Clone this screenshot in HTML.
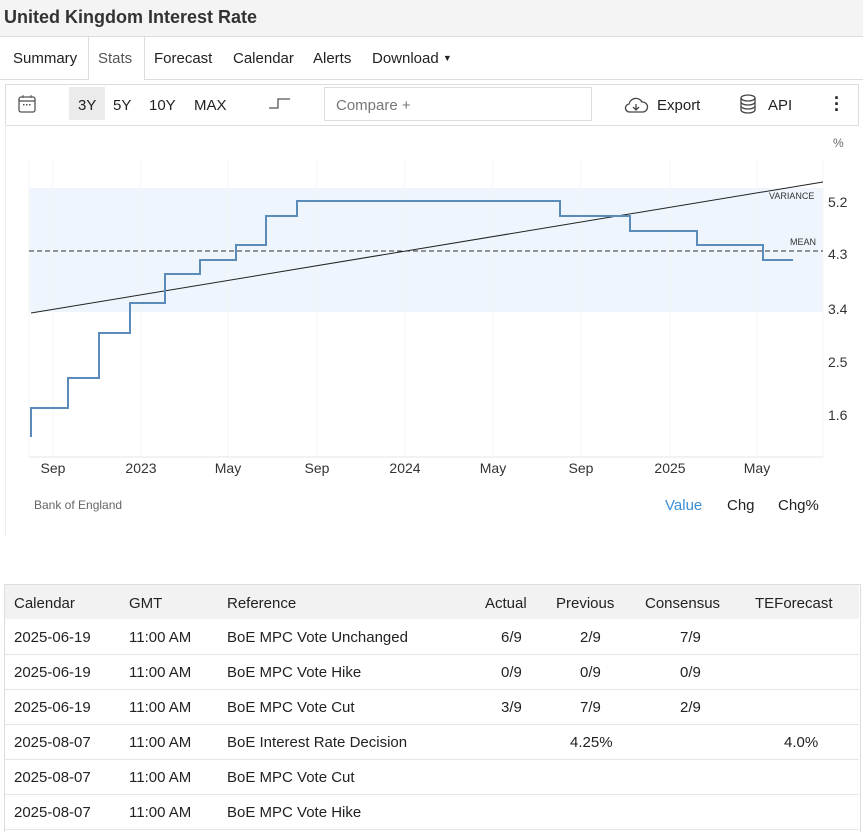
<!DOCTYPE html>
<html><head><style>
html,body{margin:0;width:863px;height:832px;overflow:hidden}
body{background:#fff;font-family:"Liberation Sans",sans-serif;color:#222;position:relative}
.a{position:absolute;white-space:nowrap}
.t{font-size:15px}
</style></head><body>
<div class="a" style="left:0;top:0;width:863px;height:36px;background:#f4f4f4;border-bottom:1px solid #ddd"></div>
<div class="a" style="left:4px;top:7px;font-size:18px;font-weight:bold;color:#333">United Kingdom Interest Rate</div>
<div class="a" style="left:0;top:79px;width:863px;border-top:1px solid #ddd"></div>
<div class="a" style="left:88px;top:37px;width:55px;height:43px;background:#fff;border-left:1px solid #ddd;border-right:1px solid #ddd"></div>
<div class="a t" style="left:13px;top:50px">Summary</div>
<div class="a t" style="left:98px;top:50px;color:#555">Stats</div>
<div class="a t" style="left:154px;top:50px">Forecast</div>
<div class="a t" style="left:233px;top:50px">Calendar</div>
<div class="a t" style="left:313px;top:50px">Alerts</div>
<div class="a t" style="left:372px;top:50px">Download <span style="font-size:9px;position:relative;top:-2px">▼</span></div>
<div class="a" style="left:5px;top:84px;width:852px;height:40px;border:1px solid #ddd"></div>
<div class="a" style="left:5px;top:124px;width:0;height:412px;border-left:1px solid #eee"></div>
<svg class="a" style="left:18px;top:95px" width="18" height="18"><rect x="1" y="2" width="16" height="15" rx="2" fill="none" stroke="#555" stroke-width="1.3"/><line x1="1" y1="6" x2="17" y2="6" stroke="#555" stroke-width="1.3"/><line x1="5" y1="0" x2="5" y2="3" stroke="#555"/><line x1="13" y1="0" x2="13" y2="3" stroke="#555"/><g fill="#555"><rect x="5" y="9" width="1.5" height="1.5"/><rect x="8" y="9" width="1.5" height="1.5"/><rect x="11" y="9" width="1.5" height="1.5"/></g></svg>
<div class="a" style="left:69px;top:87px;width:36px;height:33px;background:#ebebeb"></div>
<div class="a t" style="left:78px;top:97px">3Y</div>
<div class="a t" style="left:113px;top:97px">5Y</div>
<div class="a t" style="left:149px;top:97px">10Y</div>
<div class="a t" style="left:194px;top:97px">MAX</div>
<svg class="a" style="left:268px;top:96px" width="24" height="14"><path d="M1 12H10V3H22" fill="none" stroke="#555" stroke-width="1.3"/></svg>
<div class="a" style="left:324px;top:87px;width:268px;height:34px;border:1px solid #ddd;box-sizing:border-box"></div>
<div class="a t" style="left:336px;top:97px;color:#777">Compare +</div>
<svg class="a" style="left:623px;top:96px" width="26" height="18"><path d="M7 16H20A5 5 0 0 0 19 6A7 7 0 0 0 6 8A4 4 0 0 0 7 16Z" fill="none" stroke="#444" stroke-width="1.3"/><path d="M13 8V14M10 11L13 14L16 11" fill="none" stroke="#444" stroke-width="1.3"/></svg>
<div class="a t" style="left:657px;top:97px">Export</div>
<svg class="a" style="left:739px;top:94px" width="18" height="20"><ellipse cx="9" cy="4" rx="7" ry="3" fill="none" stroke="#444" stroke-width="1.3"/><path d="M2 4V16A7 3 0 0 0 16 16V4M2 8A7 3 0 0 0 16 8M2 12A7 3 0 0 0 16 12" fill="none" stroke="#444" stroke-width="1.3"/></svg>
<div class="a t" style="left:768px;top:97px">API</div>
<div class="a" style="left:834px;top:95px;font-size:18px;font-weight:bold;line-height:6px">·<br>·<br>·</div>
<svg class="a" style="left:0;top:124px" width="863" height="360" font-family="Liberation Sans,sans-serif">
<rect x="29" y="64" width="794" height="124" fill="#eef5fc"/>
<g stroke="#f6f6f6"><line x1="53" y1="36" x2="53" y2="333"/><line x1="141" y1="36" x2="141" y2="333"/><line x1="228" y1="36" x2="228" y2="333"/><line x1="317" y1="36" x2="317" y2="333"/><line x1="405" y1="36" x2="405" y2="333"/><line x1="493" y1="36" x2="493" y2="333"/><line x1="581" y1="36" x2="581" y2="333"/><line x1="670" y1="36" x2="670" y2="333"/><line x1="757" y1="36" x2="757" y2="333"/><line x1="823" y1="36" x2="823" y2="333"/><line x1="29" y1="36" x2="29" y2="333"/></g>
<line x1="29" y1="333" x2="823" y2="333" stroke="#e6e6e6"/>
<line x1="29" y1="127" x2="823" y2="127" stroke="#333" stroke-dasharray="5,3"/>
<line x1="31" y1="189" x2="823" y2="58" stroke="#222" stroke-width="1"/>
<path d="M31 313V284H68V254H99V209H130V179H165V150H200V136H236V121H266V92H297V77H560V92H630V107H697V121H763V136H793" fill="none" stroke="#5b8bb8" stroke-width="2"/>
<g font-size="9" fill="#333"><text x="769" y="75">VARIANCE</text><text x="790" y="121">MEAN</text></g>
<g font-size="14" fill="#333"><text x="828" y="83">5.2</text><text x="828" y="135">4.3</text><text x="828" y="190">3.4</text><text x="828" y="243">2.5</text><text x="828" y="296">1.6</text><text x="833" y="23" font-size="12" fill="#666">%</text></g>
<g font-size="14" fill="#333" text-anchor="middle"><text x="53" y="349">Sep</text><text x="141" y="349">2023</text><text x="228" y="349">May</text><text x="317" y="349">Sep</text><text x="405" y="349">2024</text><text x="493" y="349">May</text><text x="581" y="349">Sep</text><text x="670" y="349">2025</text><text x="757" y="349">May</text></g>
</svg>
<div class="a" style="left:34px;top:498px;font-size:12px;color:#666">Bank of England</div>
<div class="a t" style="left:665px;top:497px;color:#3a8fd6">Value</div>
<div class="a t" style="left:727px;top:497px">Chg</div>
<div class="a t" style="left:778px;top:497px">Chg%</div>
<div class="a" style="left:4px;top:584px;width:855px;height:260px;border:1px solid #ddd"></div>
<div class="a" style="left:5px;top:585px;width:854px;height:34px;background:#f2f2f2"></div>
<div class="a t" style="left:14px;top:595px">Calendar</div>
<div class="a t" style="left:129px;top:595px">GMT</div>
<div class="a t" style="left:227px;top:595px">Reference</div>
<div class="a t" style="left:485px;top:595px">Actual</div>
<div class="a t" style="left:556px;top:595px">Previous</div>
<div class="a t" style="left:645px;top:595px">Consensus</div>
<div class="a t" style="left:755px;top:595px">TEForecast</div>

<div class="a" style="left:5px;top:654px;width:854px;border-top:1px solid #e6e6e6"></div>
<div class="a" style="left:5px;top:689px;width:854px;border-top:1px solid #e6e6e6"></div>
<div class="a" style="left:5px;top:724px;width:854px;border-top:1px solid #e6e6e6"></div>
<div class="a" style="left:5px;top:759px;width:854px;border-top:1px solid #e6e6e6"></div>
<div class="a" style="left:5px;top:794px;width:854px;border-top:1px solid #e6e6e6"></div>
<div class="a" style="left:5px;top:829px;width:854px;border-top:1px solid #e6e6e6"></div>

<div class="a t" style="left:14px;top:629px">2025-06-19</div><div class="a t" style="left:129px;top:629px">11:00 AM</div><div class="a t" style="left:227px;top:629px">BoE MPC Vote Unchanged</div><div class="a t" style="left:501px;top:629px">6/9</div><div class="a t" style="left:580px;top:629px">2/9</div><div class="a t" style="left:680px;top:629px">7/9</div>
<div class="a t" style="left:14px;top:664px">2025-06-19</div><div class="a t" style="left:129px;top:664px">11:00 AM</div><div class="a t" style="left:227px;top:664px">BoE MPC Vote Hike</div><div class="a t" style="left:501px;top:664px">0/9</div><div class="a t" style="left:580px;top:664px">0/9</div><div class="a t" style="left:680px;top:664px">0/9</div>
<div class="a t" style="left:14px;top:699px">2025-06-19</div><div class="a t" style="left:129px;top:699px">11:00 AM</div><div class="a t" style="left:227px;top:699px">BoE MPC Vote Cut</div><div class="a t" style="left:501px;top:699px">3/9</div><div class="a t" style="left:580px;top:699px">7/9</div><div class="a t" style="left:680px;top:699px">2/9</div>
<div class="a t" style="left:14px;top:734px">2025-08-07</div><div class="a t" style="left:129px;top:734px">11:00 AM</div><div class="a t" style="left:227px;top:734px">BoE Interest Rate Decision</div><div class="a t" style="left:570px;top:734px">4.25%</div><div class="a t" style="left:784px;top:734px">4.0%</div>
<div class="a t" style="left:14px;top:769px">2025-08-07</div><div class="a t" style="left:129px;top:769px">11:00 AM</div><div class="a t" style="left:227px;top:769px">BoE MPC Vote Cut</div>
<div class="a t" style="left:14px;top:804px">2025-08-07</div><div class="a t" style="left:129px;top:804px">11:00 AM</div><div class="a t" style="left:227px;top:804px">BoE MPC Vote Hike</div>
</body></html>
